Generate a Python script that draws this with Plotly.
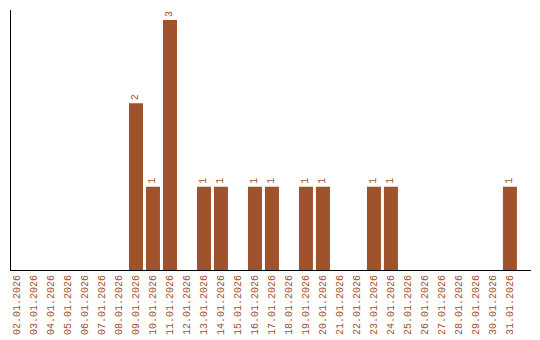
import plotly.graph_objects as go

dates = [f"{d:02d}.01.2026" for d in range(2, 32)]
counts_map = {"09.01.2026": 2, "10.01.2026": 1, "11.01.2026": 3, "13.01.2026": 1,
              "14.01.2026": 1, "16.01.2026": 1, "17.01.2026": 1, "19.01.2026": 1,
              "20.01.2026": 1, "23.01.2026": 1, "24.01.2026": 1, "31.01.2026": 1}
values = [counts_map.get(d, 0) for d in dates]
labels = [str(v) if v else "" for v in values]

color = "#A0522D"
font = "Liberation Mono"

fig = go.Figure(go.Bar(
    x=list(range(len(dates))), y=values, text=labels,
    textposition="outside", textangle=-90,
    textfont=dict(family=font, size=10, color=color),
    marker=dict(color=color, line=dict(width=0)),
    cliponaxis=False,
))
fig.update_layout(
    width=540, height=340,
    margin=dict(l=11, r=9, t=10, b=70, autoexpand=False),
    plot_bgcolor="white", paper_bgcolor="white",
    bargap=3/17, showlegend=False,
)
fig.update_xaxes(
    tickmode="array", tickvals=list(range(len(dates))), ticktext=dates,
    tickangle=-90, tickfont=dict(family=font, size=10, color=color),
    range=[-0.353, 30.24], showline=True, linecolor="black", linewidth=1,
    showgrid=False, zeroline=False, ticks="", automargin=False,
)
fig.update_yaxes(
    range=[0, 3.12], showline=True, linecolor="black", linewidth=1,
    showgrid=False, zeroline=False, showticklabels=False, ticks="", automargin=False,
)
fig.write_html("out.html")
